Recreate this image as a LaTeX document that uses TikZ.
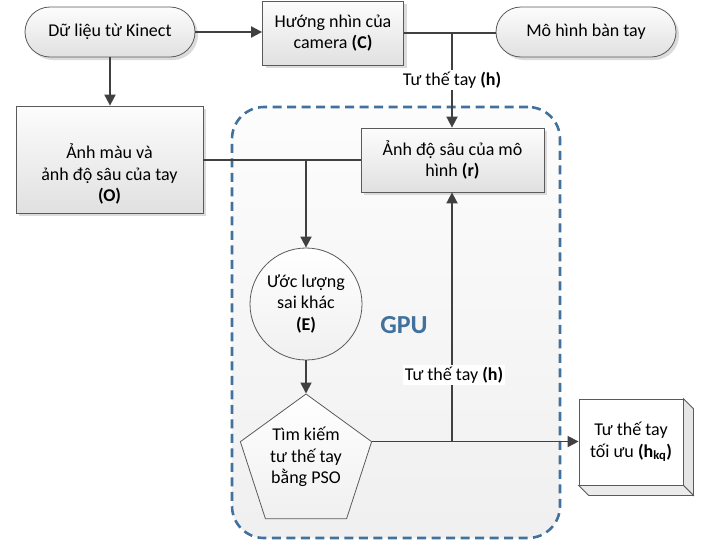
\documentclass[tikz,border=0pt]{standalone}
\usepackage{fontspec}
\setmainfont{Carlito}
\usetikzlibrary{arrows.meta,shapes.geometric,shapes.misc,shadows,calc}
\definecolor{lc}{HTML}{404040}
\definecolor{bc}{HTML}{5A5A5A}
\definecolor{gpublue}{HTML}{41719C}
\begin{document}
\begin{tikzpicture}[x=1pt,y=-1pt,
 every node/.style={font=\fontsize{18}{21.5}\selectfont, text=black, align=center},
 conn/.style={draw=lc, line width=1.8pt},
 arr/.style={conn, -{Triangle[length=11pt,width=11pt]}},
 boxshade/.style={top color=black!1, bottom color=black!12, draw=bc, line width=0.8pt,
   drop shadow={shadow xshift=3pt,shadow yshift=-3pt,fill=black!14,opacity=1}},
 procbox/.style={boxshade, rectangle, inner sep=0pt},
 term/.style={boxshade, rounded rectangle, inner sep=0pt},
 roundshape/.style={top color=white, bottom color=black!6, draw=bc, line width=0.8pt, inner sep=0pt},
 lbl/.style={fill=white, inner sep=1.5pt},
 gpubox/.style={draw=gpublue, line width=2.6pt, dash pattern=on 9pt off 5.5pt,
   rounded corners=32pt, top color=black!1, bottom color=black!6, inner sep=0pt}
]
\useasboundingbox (0,0) rectangle (704,544);

% GPU container
\node[gpubox, minimum width=328pt, minimum height=431pt] (gpu) at (396,322.5) {};
\node[font=\fontsize{26}{28}\selectfont\bfseries, text=gpublue] (gputxt) at (404,325) {GPU};

% nodes
\node[term, minimum width=170pt, minimum height=50pt] (kinect) at (110,32) {Dữ liệu từ Kinect};
\node[procbox, minimum width=141pt, minimum height=64pt] (cam) at (333,33) {Hướng nhìn của\\camera \textbf{(C)}};
\node[term, minimum width=180pt, minimum height=50pt] (model) at (586,32) {Mô hình bàn tay};
\node[procbox, minimum width=187pt, minimum height=107pt] (obs) at (109.5,159.5) {};
\node (obstxt) at (109.5,174) {Ảnh màu và\\ảnh độ sâu của tay\\\textbf{(O)}};
\node[procbox, minimum width=183pt, minimum height=64pt] (depth) at (452.5,160) {Ảnh độ sâu của mô\\hình \textbf{(r)}};
\node[roundshape, circle, minimum size=112pt] (err) at (306,304) {Ước lượng\\sai khác\\\textbf{(E)}};
\node[roundshape, regular polygon, regular polygon sides=5, minimum size=138pt] (pso) at (306,463) {};
\node (psotxt) at (306,457) {Tìm kiếm\\tư thế tay\\bằng PSO};

% 3D result box
\node[draw=bc, line width=0.8pt, fill=white, minimum width=104pt, minimum height=86pt, inner sep=0pt] (res) at (631,442) {Tư thế tay\\tối ưu \textbf{(h\textsubscript{kq})}};
\filldraw[fill=black!10, draw=bc, line width=0.8pt] (res.north east) -- ++(10,10) -- ($(res.south east)+(10,10)$) -- (res.south east) -- cycle;
\filldraw[fill=black!8, draw=bc, line width=0.8pt] (res.south west) -- ++(10,10) -- ($(res.south east)+(10,10)$) -- (res.south east) -- cycle;

% junction coordinates
\coordinate (jtop) at (452,33);
\coordinate (jmid) at (306,160);
\coordinate (jbot) at (452,442);

% connectors
\draw[arr] (kinect.east) -- (cam.west |- kinect.east);
\draw[arr] (kinect.south) -- (kinect.south |- obs.north);
\draw[conn] (cam.east) -- (model.west |- cam.east);
\draw[arr] (jtop) -- (jtop |- depth.north);
\draw[conn] (obs.east |- jmid) -- (depth.west |- jmid);
\draw[arr] (jmid) -- (err.north);
\draw[arr] (err.south) -- (pso.corner 1);
\draw[arr] (pso.corner 5) -- (res.west |- pso.corner 5);
\draw[arr] (jbot) -- (jbot |- depth.south);

% labels
\node[lbl] (lh1) at (452,80) {Tư thế tay \textbf{(h)}};
\node[lbl] (lh2) at (454,375) {Tư thế tay \textbf{(h)}};
\end{tikzpicture}
\end{document}
